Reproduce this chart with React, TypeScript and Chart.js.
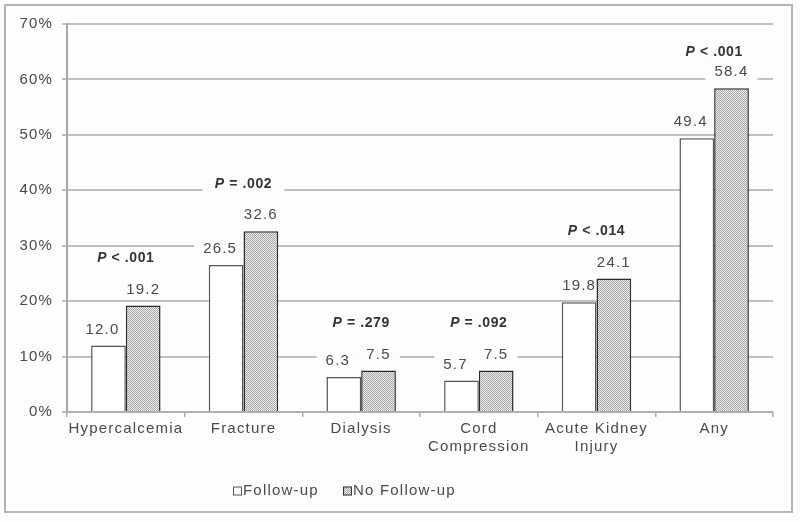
import React, { useEffect, useRef } from "react";
import { Chart, registerables } from "chart.js";

Chart.register(...registerables);

const categories: (string | string[])[] = [
  "Hypercalcemia",
  "Fracture",
  "Dialysis",
  ["Cord", "Compression"],
  ["Acute Kidney", "Injury"],
  "Any",
];
const followUp = [12.0, 26.5, 6.3, 5.7, 19.8, 49.4];
const noFollowUp = [19.2, 32.6, 7.5, 7.5, 24.1, 58.4];
const pOps = ["<", "=", "=", "=", "<", "<"];
const pVals = [".001", ".002", ".279", ".092", ".014", ".001"];
const seriesNames = ["Follow-up", "No Follow-up"];

const FONT = "'Liberation Sans', Arial, sans-serif";
const SPACING = "1.2px";
const BG = "#fdfdfb";

function makePattern(): CanvasPattern | string {
  const c = document.createElement("canvas");
  c.width = 2;
  c.height = 2;
  const ctx = c.getContext("2d");
  if (!ctx) return "#c8c8c8";
  ctx.fillStyle = "#eeeeee";
  ctx.fillRect(0, 0, 2, 2);
  ctx.fillStyle = "#a6a6a6";
  ctx.fillRect(0, 0, 1, 1);
  ctx.fillRect(1, 1, 1, 1);
  const p = ctx.createPattern(c, "repeat");
  return p || "#c8c8c8";
}

type Lbl = { text: string; x: number; y: number };

function valueLabels(chart: any): Lbl[] {
  const labels: Lbl[] = [];
  [0, 1].forEach((di) => {
    const meta = chart.getDatasetMeta(di);
    const data = di === 0 ? followUp : noFollowUp;
    meta.data.forEach((bar: any, i: number) => {
      const dx = di === 0 && i !== 4 ? -6 : 0;
      labels.push({ text: data[i].toFixed(1), x: bar.x + dx, y: bar.y - 16 });
    });
  });
  return labels;
}

type PL = { x0: number; y: number; w1: number; w2: number; rest: string };

function pLabels(chart: any, ctx: CanvasRenderingContext2D): PL[] {
  const area = chart.chartArea;
  const y = chart.scales.y;
  const m0 = chart.getDatasetMeta(0);
  const m1 = chart.getDatasetMeta(1);
  return categories.map((_, i) => {
    const cx = (m0.data[i].x + m1.data[i].x) / 2;
    const top = y.getPixelForValue(Math.max(followUp[i], noFollowUp[i]));
    const py = Math.max(top - 47, area.top + 28);
    const rest = ` ${pOps[i]} ${pVals[i]}`;
    ctx.font = `italic bold 14px ${FONT}`;
    const w1 = ctx.measureText("P").width;
    ctx.font = `bold 14px ${FONT}`;
    const w2 = ctx.measureText(rest).width;
    return { x0: cx - (w1 + w2) / 2, y: py, w1, w2, rest };
  });
}

export default function App() {
  const ref = useRef<HTMLCanvasElement>(null);

  useEffect(() => {
    document.body.style.margin = "0";
    const canvas = ref.current;
    if (!canvas) return;
    const pattern = makePattern();

    const spacing = {
      id: "spacing",
      beforeInit(chart: any) {
        (chart.ctx as any).letterSpacing = SPACING;
      },
      beforeUpdate(chart: any) {
        (chart.ctx as any).letterSpacing = SPACING;
      },
      beforeDraw(chart: any) {
        (chart.ctx as any).letterSpacing = SPACING;
      },
    };

    const overlay = {
      id: "overlay",
      beforeDatasetsDraw(chart: any) {
        const ctx = chart.ctx;
        ctx.save();
        (ctx as any).letterSpacing = SPACING;
        ctx.font = `15px ${FONT}`;
        ctx.fillStyle = BG;
        valueLabels(chart).forEach((l) => {
          const w = ctx.measureText(l.text).width;
          ctx.fillRect(l.x - w / 2 - 9, l.y - 9, w + 18, 18);
        });
        (ctx as any).letterSpacing = "0.6px";
        pLabels(chart, ctx).forEach((p) => {
          ctx.fillStyle = BG;
          ctx.fillRect(p.x0 - 12, p.y - 9, p.w1 + p.w2 + 24, 18);
        });
        ctx.restore();
      },
      afterDraw(chart: any) {
        const ctx = chart.ctx;
        ctx.save();
        (ctx as any).letterSpacing = SPACING;
        // frame
        ctx.strokeStyle = "#b4b4b4";
        ctx.lineWidth = 2;
        ctx.strokeRect(5, 5, 787, 507);

        // value labels
        ctx.font = `15px ${FONT}`;
        ctx.textAlign = "center";
        ctx.textBaseline = "middle";
        ctx.fillStyle = "#4a4a4a";
        valueLabels(chart).forEach((l) => ctx.fillText(l.text, l.x, l.y));

        // P labels
        (ctx as any).letterSpacing = "0.6px";
        pLabels(chart, ctx).forEach((p) => {
          ctx.fillStyle = "#333";
          ctx.textAlign = "left";
          ctx.font = `italic bold 14px ${FONT}`;
          ctx.fillText("P", p.x0, p.y);
          ctx.font = `bold 14px ${FONT}`;
          ctx.fillText(p.rest, p.x0 + p.w1, p.y);
        });

        // legend
        (ctx as any).letterSpacing = SPACING;
        const ly = 491;
        const items = [
          { x: 233, fill: "#ffffff", stroke: "#555" },
          { x: 343, fill: pattern, stroke: "#333" },
        ];
        ctx.font = `15px ${FONT}`;
        ctx.textBaseline = "middle";
        ctx.textAlign = "left";
        items.forEach((it, k) => {
          ctx.fillStyle = it.fill as any;
          ctx.fillRect(it.x, ly - 4.5, 9, 9);
          ctx.strokeStyle = it.stroke;
          ctx.lineWidth = 1;
          ctx.strokeRect(it.x + 0.5, ly - 4, 8, 8);
          ctx.fillStyle = "#4a4a4a";
          ctx.fillText(seriesNames[k], it.x + 10, ly);
        });
        ctx.restore();
      },
    };

    const chart = new Chart(canvas, {
      type: "bar",
      data: {
        labels: categories,
        datasets: [
          {
            label: seriesNames[0],
            data: followUp,
            backgroundColor: "#ffffff",
            borderColor: "#555555",
            borderWidth: 1.5,
            categoryPercentage: 0.59,
            barPercentage: 1,
          },
          {
            label: seriesNames[1],
            data: noFollowUp,
            backgroundColor: pattern as any,
            borderColor: "#2a2a2a",
            borderWidth: 1.5,
            categoryPercentage: 0.59,
            barPercentage: 1,
          },
        ],
      },
      options: {
        animation: false,
        responsive: false,
        maintainAspectRatio: false,
        layout: { padding: { left: 0, right: 27, top: 24, bottom: 0 } },
        plugins: {
          legend: { display: false },
          tooltip: { enabled: false },
        },
        scales: {
          x: {
            offset: true,
            grid: {
              display: true,
              offset: true,
              drawOnChartArea: false,
              drawTicks: true,
              tickLength: 5,
              color: "#b0b0b0",
              lineWidth: 1.5,
            },
            border: { display: true, color: "#b0b0b0", width: 2 },
            ticks: {
              color: "#4a4a4a",
              font: { family: FONT, size: 15 },
              padding: 3,
              maxRotation: 0,
              autoSkip: false,
            },
            afterFit(scale: any) {
              scale.height = 110;
            },
          },
          y: {
            min: 0,
            max: 70,
            ticks: {
              stepSize: 10,
              color: "#4a4a4a",
              font: { family: FONT, size: 15 },
              padding: 9,
              callback: (v: any) => `${v}%`,
            },
            grid: {
              color: "#c0c0c0",
              lineWidth: 2,
              drawTicks: true,
              tickLength: 5,
            },
            border: { display: true, color: "#a8a8a8", width: 2 },
            afterFit(scale: any) {
              scale.width = 67;
            },
          },
        },
      },
      plugins: [spacing, overlay],
    });

    return () => chart.destroy();
  }, []);

  return (
    <div style={{ width: 800, height: 522, background: BG }}>
      <canvas ref={ref} width={800} height={522} style={{ display: "block" }} />
    </div>
  );
}
